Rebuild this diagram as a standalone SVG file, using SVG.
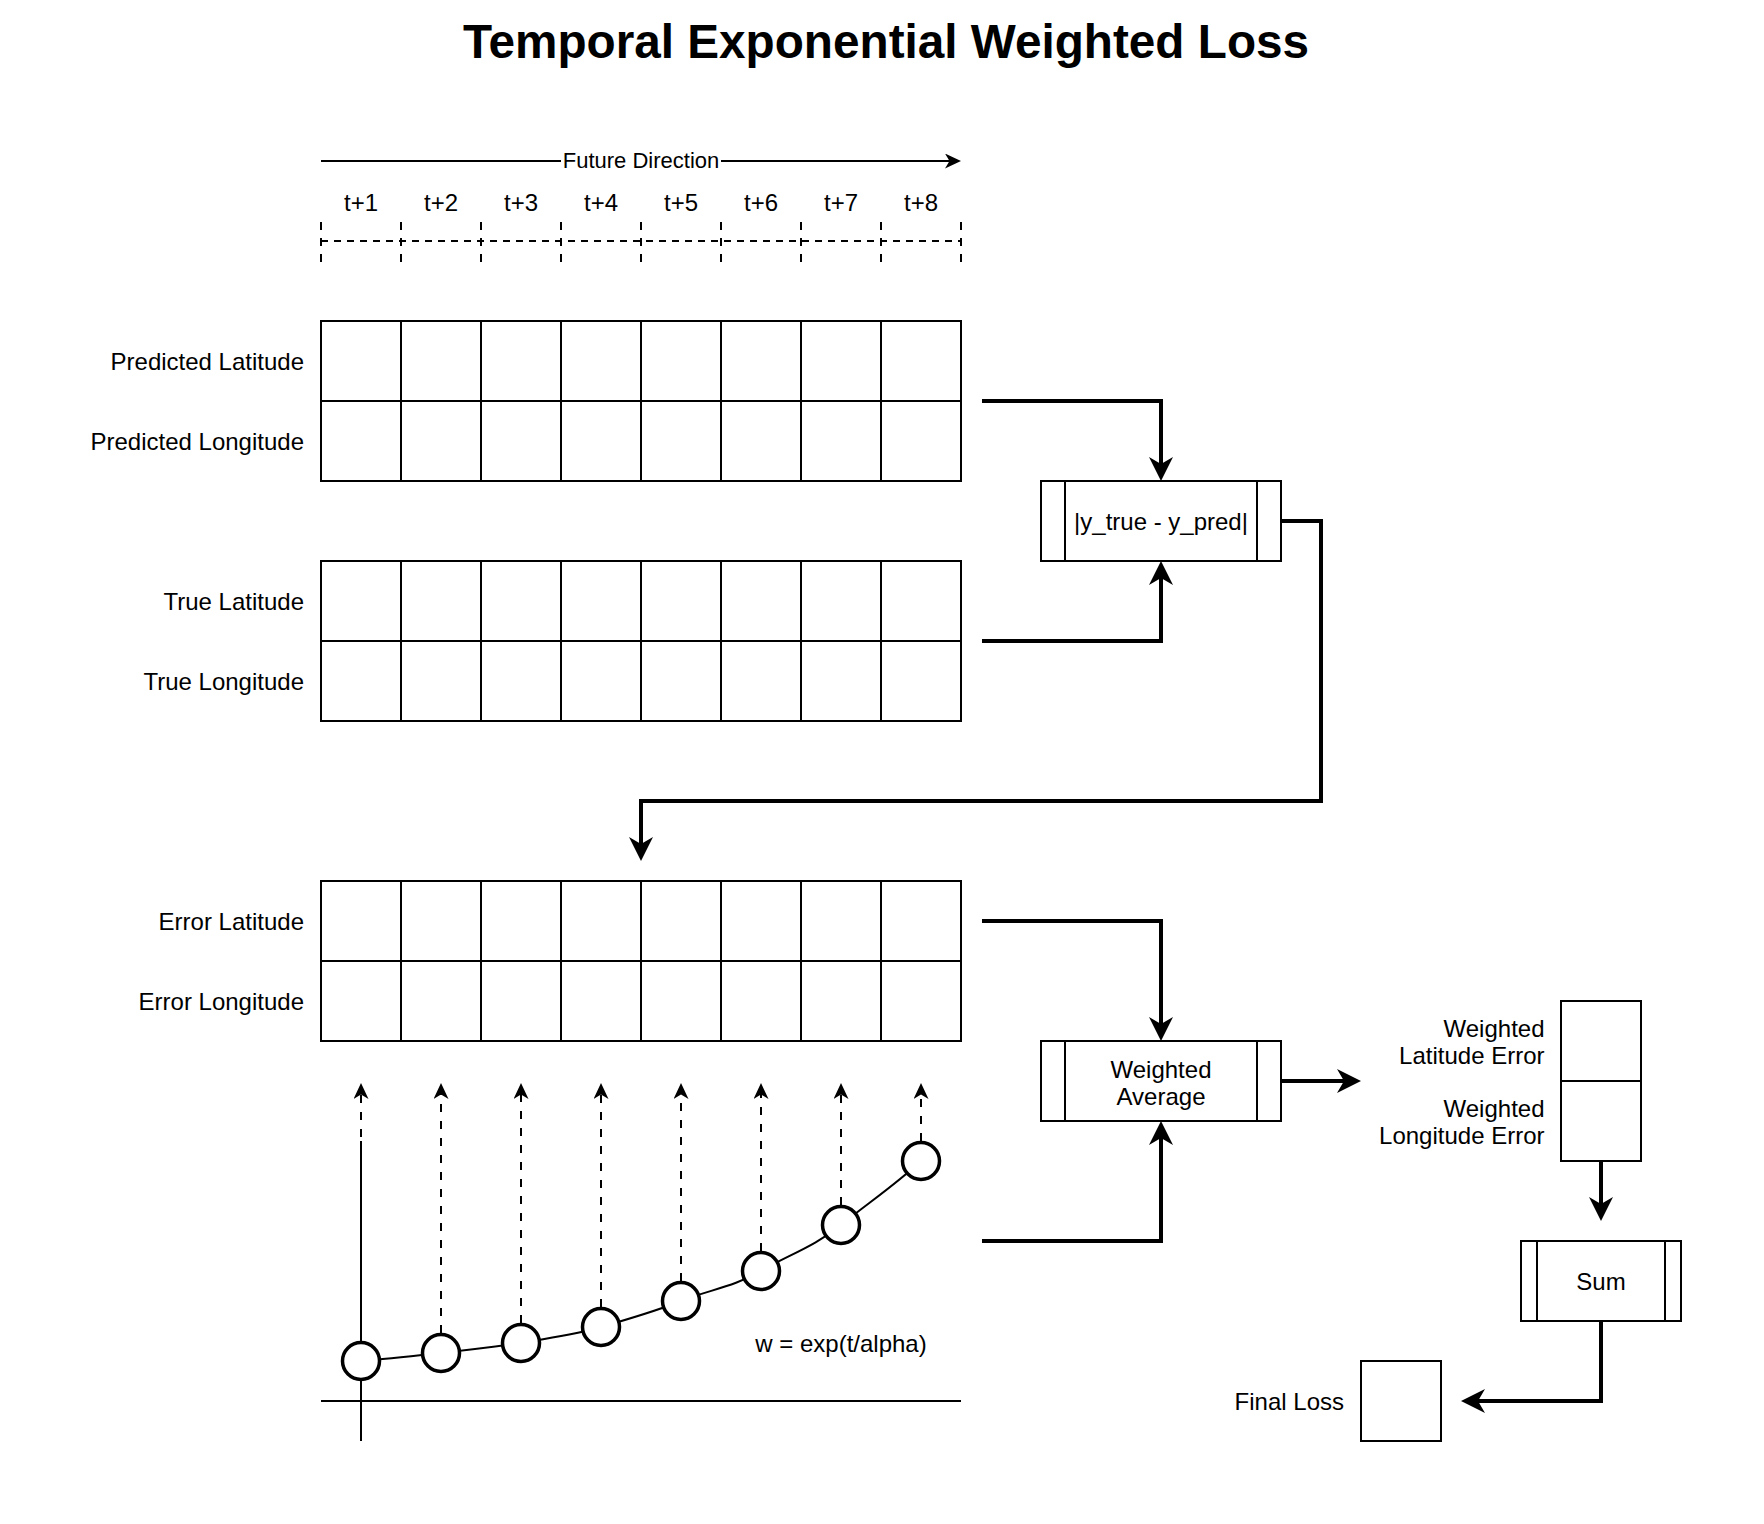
<svg xmlns="http://www.w3.org/2000/svg" width="1764" height="1524" viewBox="0 0 1764 1524">
<style>
text{font-family:"Liberation Sans",Arial,Helvetica,sans-serif;fill:#000}
.t{font-size:24px}
.c{text-anchor:middle}
.e{text-anchor:end}
.cell{fill:none;stroke:#000;stroke-width:2}
.box{fill:#fff;stroke:#000;stroke-width:2}
.big{fill:none;stroke:#000;stroke-width:4;marker-end:url(#ah)}
.thin{fill:none;stroke:#000;stroke-width:2}
.dash{fill:none;stroke:#000;stroke-width:2;stroke-dasharray:8 9;marker-end:url(#sh)}
.tick{fill:none;stroke:#000;stroke-width:2;stroke-dasharray:7 6}
.dot{fill:#fff;stroke:#000;stroke-width:3.5}
</style>
<defs>
<marker id="ah" viewBox="0 0 24 24" markerWidth="24" markerHeight="24" markerUnits="userSpaceOnUse" refX="10" refY="12" orient="auto"><path d="M0,0L24,12L0,24L7,12Z" fill="#000"/></marker>
<marker id="sh" viewBox="0 0 16 15" markerWidth="16" markerHeight="15" markerUnits="userSpaceOnUse" refX="6" refY="7.5" orient="auto"><path d="M0,0L16,7.5L0,15L4.5,7.5Z" fill="#000"/></marker>
</defs>
<rect width="1764" height="1524" fill="#fff"/>

<g id="title"><text x="886" y="57.5" class="c" style="font-size:47.7px;font-weight:bold">Temporal Exponential Weighted Loss</text></g>

<g transform="translate(1,1)">
<g id="timesteps" class="t">
<text x="360" y="209.5" class="c">t+1</text>
<text x="440" y="209.5" class="c">t+2</text>
<text x="520" y="209.5" class="c">t+3</text>
<text x="600" y="209.5" class="c">t+4</text>
<text x="680" y="209.5" class="c">t+5</text>
<text x="760" y="209.5" class="c">t+6</text>
<text x="840" y="209.5" class="c">t+7</text>
<text x="920" y="209.5" class="c">t+8</text>
</g>

<g id="timeline-ticks">
<path class="tick" d="M320,240H960"/>
<path class="tick" style="stroke-dasharray:8 8" d="M320,221V262M400,221V262M480,221V262M560,221V262M640,221V262M720,221V262M800,221V262M880,221V262M960,221V262"/>
</g>

<g id="pred-grid">
<rect class="cell" x="320" y="320" width="640" height="160"/>
<path class="cell" d="M400,320V480M480,320V480M560,320V480M640,320V480M720,320V480M800,320V480M880,320V480M320,400H960"/>
<text class="t e" x="303" y="368.5">Predicted Latitude</text>
<text class="t e" x="303" y="448.5">Predicted Longitude</text>
</g>

<g id="true-grid">
<rect class="cell" x="320" y="560" width="640" height="160"/>
<path class="cell" d="M400,560V720M480,560V720M560,560V720M640,560V720M720,560V720M800,560V720M880,560V720M320,640H960"/>
<text class="t e" x="303" y="608.5">True Latitude</text>
<text class="t e" x="303" y="688.5">True Longitude</text>
</g>

<g id="error-grid">
<rect class="cell" x="320" y="880" width="640" height="160"/>
<path class="cell" d="M400,880V1040M480,880V1040M560,880V1040M640,880V1040M720,880V1040M800,880V1040M880,880V1040M320,960H960"/>
<text class="t e" x="303" y="928.5">Error Latitude</text>
<text class="t e" x="303" y="1008.5">Error Longitude</text>
</g>

<g id="abs-diff">
<rect class="box" x="1040" y="480" width="240" height="80"/>
<path class="thin" d="M1064,480V560M1256,480V560"/>
<text class="t c" x="1160" y="529">|y_true - y_pred|</text>
</g>

<g id="weighted-average">
<rect class="box" x="1040" y="1040" width="240" height="80"/>
<path class="thin" d="M1064,1040V1120M1256,1040V1120"/>
<text class="t c" x="1160" y="1077">Weighted</text>
<text class="t c" x="1160" y="1104">Average</text>
</g>

<g id="weighted-errors">
<rect class="box" x="1560" y="1000" width="80" height="160"/>
<path class="thin" d="M1560,1080H1640"/>
<text class="t e" x="1543.5" y="1036">Weighted</text>
<text class="t e" x="1543.5" y="1063">Latitude Error</text>
<text class="t e" x="1543.5" y="1116">Weighted</text>
<text class="t e" x="1543.5" y="1143">Longitude Error</text>
</g>

<g id="sum">
<rect class="box" x="1520" y="1240" width="160" height="80"/>
<path class="thin" d="M1536,1240V1320M1664,1240V1320"/>
<text class="t c" x="1600" y="1289">Sum</text>
</g>

<g id="final-loss">
<rect class="box" x="1360" y="1360" width="80" height="80"/>
<text class="t e" x="1343" y="1409">Final Loss</text>
</g>

<g id="weight-chart">
<path class="thin" d="M360,1140V1440M320,1400H960"/>
<path class="thin" d="M360,1360C387,1358 413,1355 440,1352C467,1349 493,1346 520,1342C547,1337 573,1334 600,1326C627,1318 653,1311 680,1300C707,1289 733,1286 760,1270C787,1254 813,1246 840,1224C867,1202 893,1185 920,1160"/>
<g id="weight-arrows">
<path class="dash" d="M360,1340V1092"/>
<path class="dash" d="M440,1332V1092"/>
<path class="dash" d="M520,1322V1092"/>
<path class="dash" d="M600,1306V1092"/>
<path class="dash" d="M680,1280V1092"/>
<path class="dash" d="M760,1250V1092"/>
<path class="dash" d="M840,1204V1092"/>
<path class="dash" d="M920,1140V1092"/>
</g>
<circle class="dot" cx="360" cy="1360" r="18.5"/>
<circle class="dot" cx="440" cy="1352" r="18.5"/>
<circle class="dot" cx="520" cy="1342" r="18.5"/>
<circle class="dot" cx="600" cy="1326" r="18.5"/>
<circle class="dot" cx="680" cy="1300" r="18.5"/>
<circle class="dot" cx="760" cy="1270" r="18.5"/>
<circle class="dot" cx="840" cy="1224" r="18.5"/>
<circle class="dot" cx="920" cy="1160" r="18.5"/>
<text class="t c" x="840" y="1351">w = exp(t/alpha)</text>
</g>

<g id="connectors">
<path class="thin" d="M320,160H560"/>
<path class="thin" style="marker-end:url(#sh)" d="M720,160H950"/>
<text class="c" style="font-size:22px" x="640" y="167">Future Direction</text>
<path class="big" d="M981,400H1160V466"/>
<path class="big" d="M981,640H1160V574"/>
<path class="big" d="M1280,520H1320V800H640V846"/>
<path class="big" d="M981,920H1160V1026"/>
<path class="big" d="M981,1240H1160V1134"/>
<path class="big" d="M1280,1080H1346"/>
<path class="big" d="M1600,1160V1206"/>
<path class="big" d="M1600,1320V1400H1474"/>
</g>
</g>
</svg>
